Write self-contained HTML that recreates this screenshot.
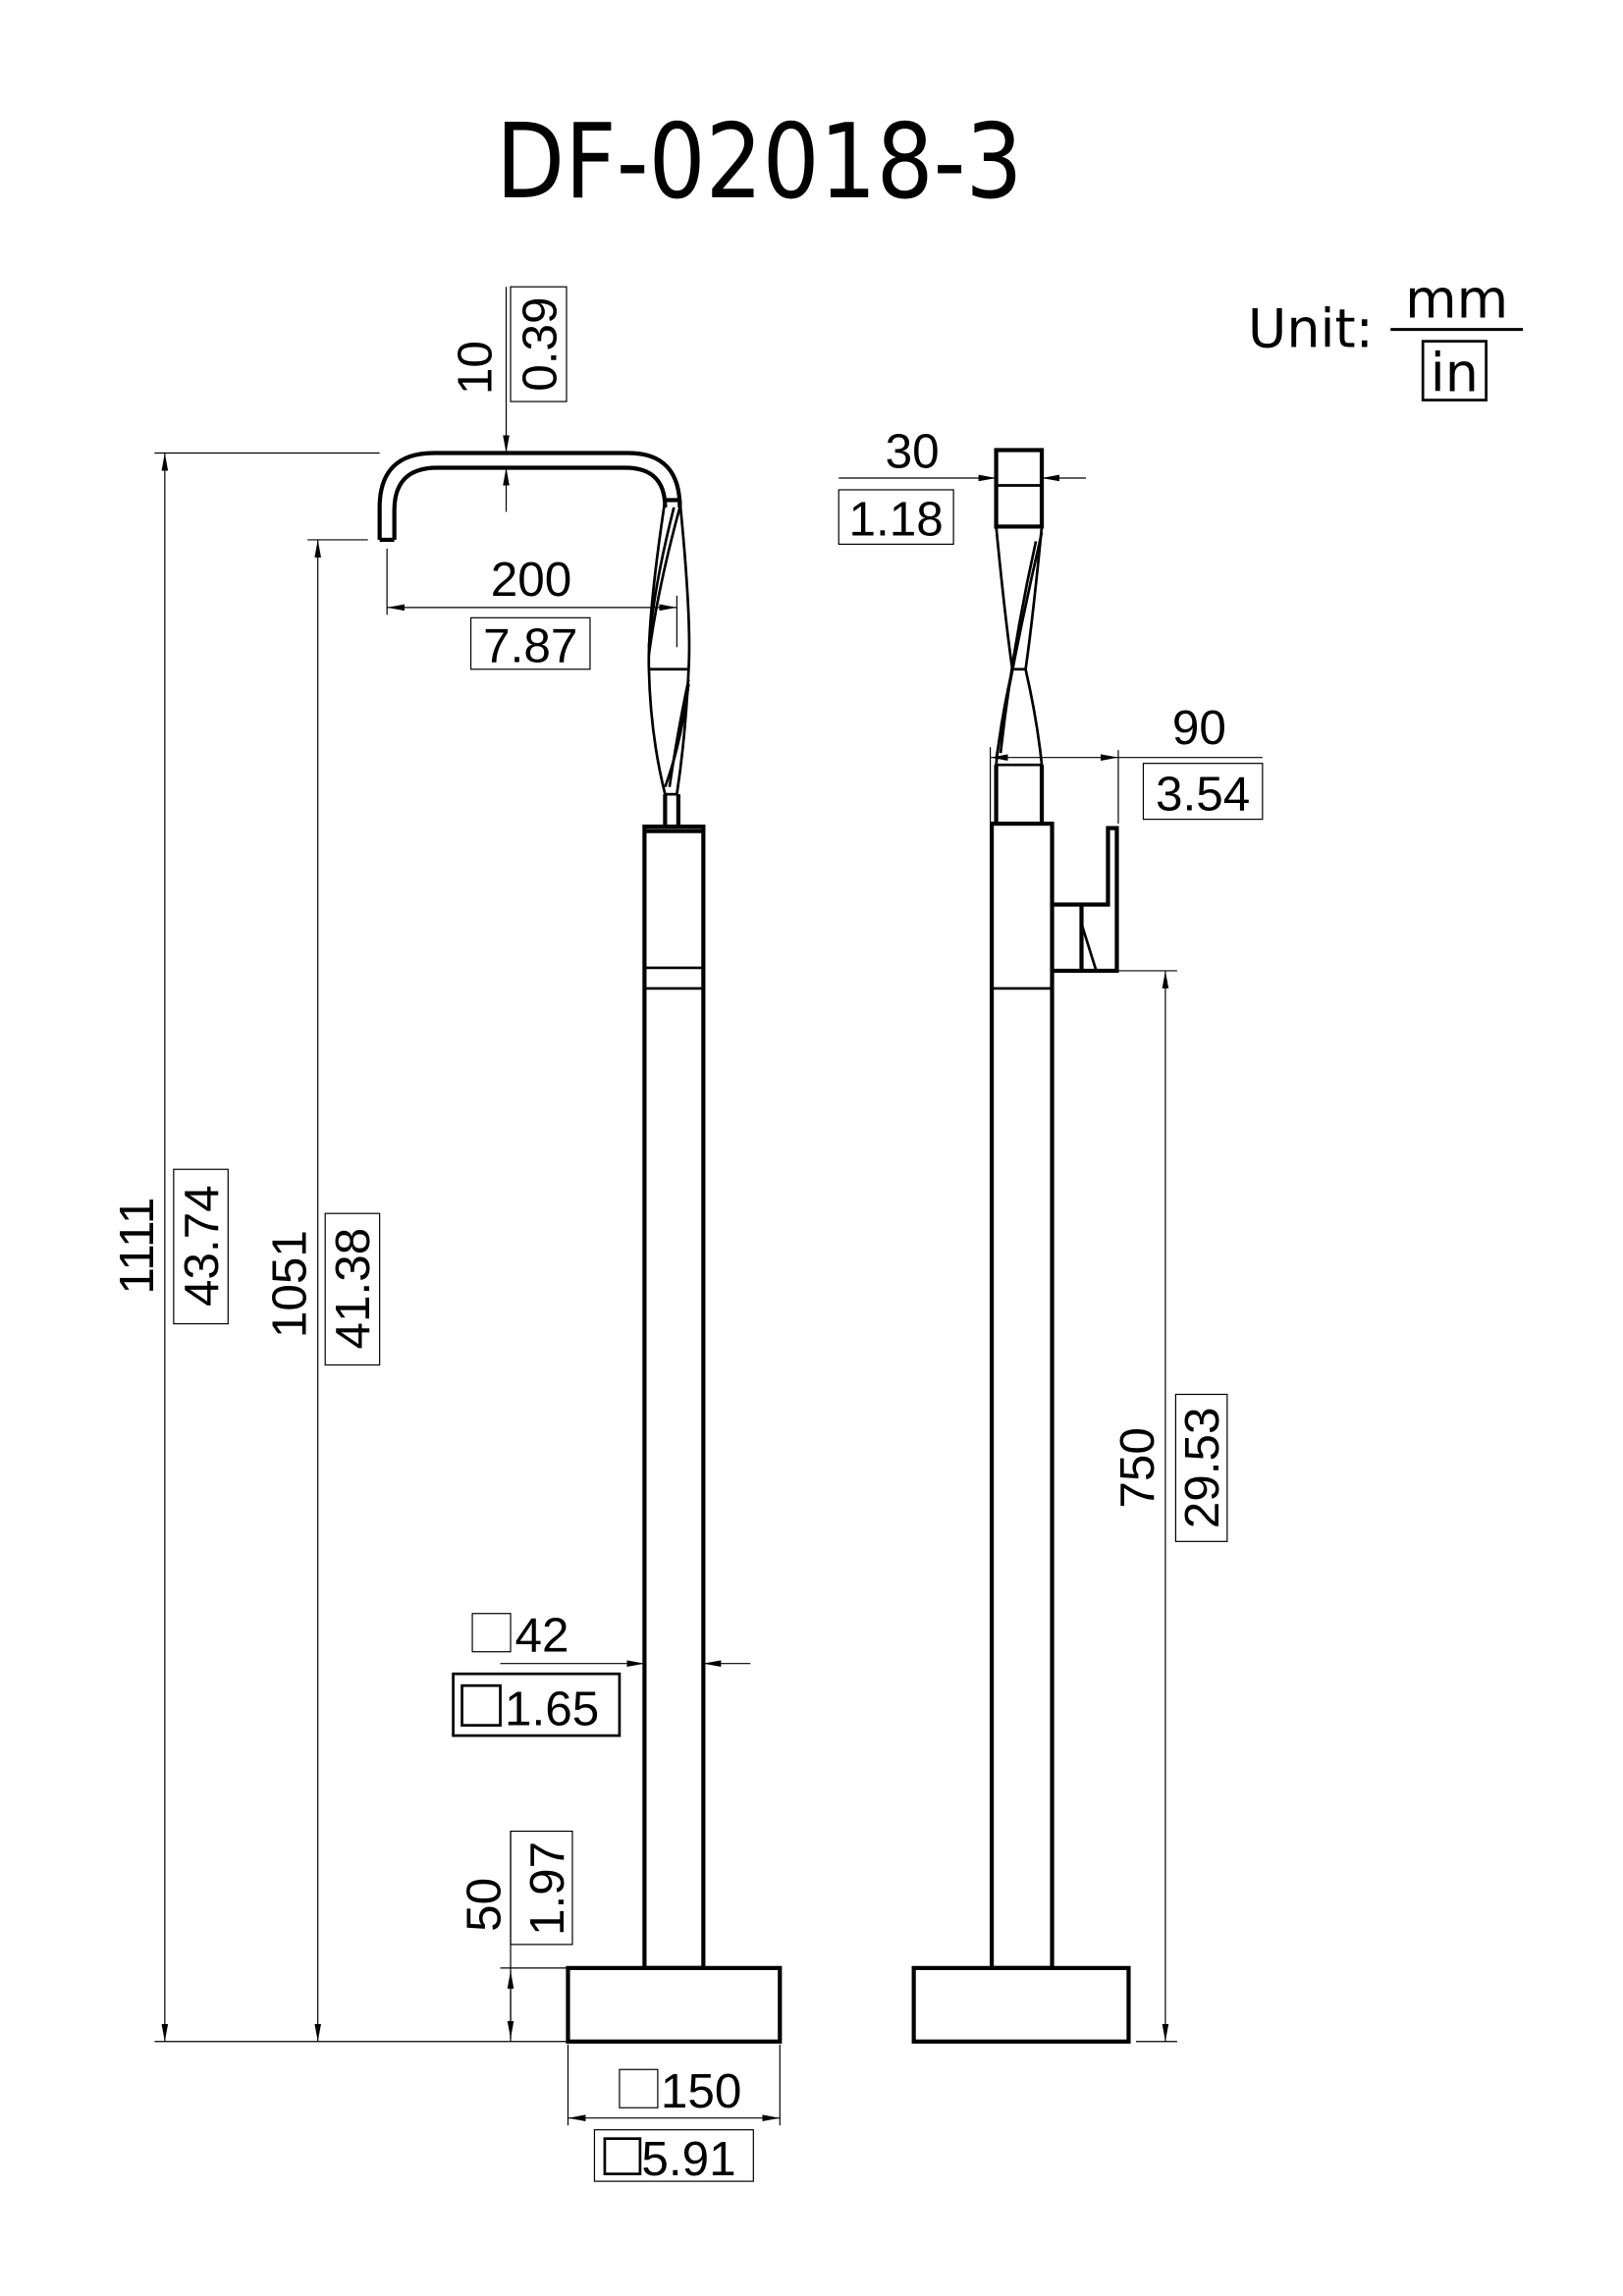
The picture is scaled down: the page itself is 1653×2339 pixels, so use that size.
<!DOCTYPE html>
<html><head><meta charset="utf-8"><style>
html,body{margin:0;padding:0;background:#fff;}
svg{display:block;}
text{font-family:"Liberation Sans",sans-serif;fill:#000;}
.t{stroke:#000;stroke-width:2.8;fill:none;}
.m{stroke:#000;stroke-width:1.8;fill:none;}
.d{stroke:#000;stroke-width:0.8;fill:none;}
.b{stroke:#000;stroke-width:0.8;fill:none;}
.n{font-size:33px;}
</style></head><body>
<svg width="1653" height="2339" viewBox="0 0 1103 1561" preserveAspectRatio="none" xmlns="http://www.w3.org/2000/svg">
<defs>
<marker id="a" viewBox="0 0 12 6" refX="12" refY="3" markerWidth="12" markerHeight="6" markerUnits="userSpaceOnUse" orient="auto-start-reverse"><path d="M0,0.8 L12,3 L0,5.2 Z" fill="#000"/></marker>
</defs>
<!-- title -->
<text x="337" y="134" font-size="70" textLength="358" lengthAdjust="spacingAndGlyphs" style="font-family:'DejaVu Sans','Liberation Sans',sans-serif">DF-02018-3</text>
<!-- unit -->
<text x="848" y="236" font-size="36" style="font-family:'DejaVu Sans','Liberation Sans',sans-serif">Unit:</text>
<text x="990" y="216" font-size="36" text-anchor="middle" style="font-family:'DejaVu Sans','Liberation Sans',sans-serif">mm</text>
<line x1="945" y1="224" x2="1035" y2="224" stroke="#000" stroke-width="2"/>
<rect x="967" y="232" width="43" height="40" class="m"/>
<text x="988.5" y="266" font-size="36" text-anchor="middle" style="font-family:'DejaVu Sans','Liberation Sans',sans-serif">in</text>

<!-- LEFT VIEW -->
<path class="t" d="M258,367 L258,345 Q258,308 295,308 L427,308 Q462,308 462,345 L462,340"/>
<path class="t" d="M268,367 L268,347 Q268,318 297,318 L425,318 Q452,318 452,345"/>
<line class="t" x1="258" y1="367" x2="268" y2="367"/>
<line class="t" x1="452" y1="340" x2="462" y2="340"/>
<path class="m" d="M452,340 Q440,420 441,455 Q442,500 452,540"/>
<path class="m" d="M462,340 Q470,420 468,455 Q466,500 460,540"/>
<path class="m" d="M462,345 Q447,400 441,445"/>
<path class="m" d="M458,345 Q444,400 441,440"/>
<path class="m" d="M468,465 Q463,505 452,535"/>
<path class="m" d="M468,462 Q460,500 455,535"/>
<line class="m" x1="441" y1="455" x2="468" y2="455"/>
<line class="m" x1="452" y1="540" x2="460" y2="540"/>
<line class="t" x1="452" y1="540" x2="452" y2="562"/>
<line class="t" x1="461" y1="540" x2="461" y2="562"/>
<rect x="438" y="562" width="40" height="776" class="t"/>
<line class="t" x1="438" y1="565" x2="478" y2="565"/>
<line class="m" x1="438" y1="658" x2="478" y2="658"/>
<line class="m" x1="438" y1="672" x2="478" y2="672"/>
<rect x="386" y="1338" width="144" height="50" class="t" stroke-width="3.2"/>

<!-- 1111 -->
<line class="d" x1="105" y1="308" x2="258" y2="308"/>
<line class="d" x1="105" y1="1388" x2="385" y2="1388"/>
<line class="d" x1="112" y1="308" x2="112" y2="1388" marker-start="url(#a)" marker-end="url(#a)"/>
<text class="n" transform="translate(104,847) rotate(-90)" text-anchor="middle">1111</text>
<rect x="118" y="795" width="37" height="105" class="b"/>
<text class="n" transform="translate(148,847) rotate(-90)" text-anchor="middle">43.74</text>
<!-- 1051 -->
<line class="d" x1="209" y1="367" x2="250" y2="367"/>
<line class="d" x1="216" y1="367" x2="216" y2="1388" marker-start="url(#a)" marker-end="url(#a)"/>
<text class="n" transform="translate(208,873) rotate(-90)" text-anchor="middle">1051</text>
<rect x="221" y="825" width="37" height="103" class="b"/>
<text class="n" transform="translate(251,876) rotate(-90)" text-anchor="middle">41.38</text>
<!-- 10 -->
<line class="d" x1="344" y1="195" x2="344" y2="308" marker-end="url(#a)"/>
<line class="d" x1="344" y1="318" x2="344" y2="348" marker-start="url(#a)"/>
<text class="n" transform="translate(334,250) rotate(-90)" text-anchor="middle">10</text>
<rect x="347" y="195" width="38" height="78" class="b"/>
<text class="n" transform="translate(378,234) rotate(-90)" text-anchor="middle">0.39</text>
<!-- 200 -->
<line class="d" x1="263" y1="373" x2="263" y2="418"/>
<line class="d" x1="460" y1="405" x2="460" y2="440"/>
<line class="d" x1="263" y1="413" x2="460" y2="413" marker-start="url(#a)" marker-end="url(#a)"/>
<text class="n" x="361" y="405" text-anchor="middle">200</text>
<rect x="320" y="420" width="81" height="35" class="b"/>
<text class="n" x="360.5" y="450" text-anchor="middle">7.87</text>
<!-- 42 -->
<rect x="321" y="1097" width="26" height="26" class="b"/>
<text class="n" x="350" y="1123">42</text>
<line class="d" x1="340" y1="1131" x2="438" y2="1131" marker-end="url(#a)"/>
<line class="d" x1="478" y1="1131" x2="510" y2="1131" marker-start="url(#a)"/>
<rect x="308" y="1138" width="113" height="42" class="m"/>
<rect x="314" y="1146" width="26" height="27" class="m"/>
<text class="n" x="343" y="1173">1.65</text>
<!-- 50 -->
<line class="d" x1="340" y1="1338" x2="386" y2="1338"/>
<line class="d" x1="347" y1="1245" x2="347" y2="1388"/>
<line class="d" x1="347" y1="1340" x2="347" y2="1386" marker-start="url(#a)" marker-end="url(#a)"/>
<text class="n" transform="translate(340,1295) rotate(-90)" text-anchor="middle">50</text>
<rect x="347" y="1245" width="42" height="77" class="b"/>
<text class="n" transform="translate(383,1284) rotate(-90)" text-anchor="middle">1.97</text>
<!-- 150 -->
<line class="d" x1="386" y1="1390" x2="386" y2="1445"/>
<line class="d" x1="530" y1="1390" x2="530" y2="1445"/>
<line class="d" x1="386" y1="1440" x2="530" y2="1440" marker-start="url(#a)" marker-end="url(#a)"/>
<rect x="421" y="1407" width="26" height="26" class="b"/>
<text class="n" x="449" y="1433">150</text>
<rect x="404" y="1448" width="108" height="35" class="b"/>
<rect x="411" y="1454" width="24" height="24" class="m"/>
<text class="n" x="436" y="1479">5.91</text>

<!-- RIGHT VIEW -->
<rect x="677" y="306" width="31" height="52" class="t"/>
<line class="m" x1="677" y1="330" x2="708" y2="330"/>
<path class="m" d="M677,358 Q683,420 688,455 Q680,490 677,520"/>
<path class="m" d="M708,358 Q702,420 697,455 Q705,490 708,520"/>
<path class="m" d="M708,362 Q690,440 677,516"/>
<path class="m" d="M704,368 Q688,440 680,512"/>
<line class="m" x1="688" y1="455" x2="697" y2="455"/>
<line class="m" x1="677" y1="520" x2="708" y2="520"/>
<line class="t" x1="677" y1="520" x2="677" y2="560"/>
<line class="t" x1="708" y1="520" x2="708" y2="560"/>
<rect x="674" y="560" width="41" height="778" class="t"/>
<line class="m" x1="674" y1="672" x2="715" y2="672"/>
<path class="t" d="M715,615 L753,615 L753,563 L759,563 L759,660 L715,660"/>
<line class="t" x1="735" y1="615" x2="735" y2="660"/>
<path class="m" d="M735,628 L745,660"/>
<rect x="621" y="1338" width="146" height="50" class="t" stroke-width="3.2"/>
<!-- 30 -->
<line class="d" x1="570" y1="325" x2="677" y2="325" marker-end="url(#a)"/>
<line class="d" x1="708" y1="325" x2="738" y2="325" marker-start="url(#a)"/>
<text class="n" x="620" y="318" text-anchor="middle">30</text>
<rect x="570" y="333" width="78" height="37" class="b"/>
<text class="n" x="609" y="364" text-anchor="middle">1.18</text>
<!-- 90 -->
<line class="d" x1="673" y1="508" x2="673" y2="560"/>
<line class="d" x1="760" y1="510" x2="760" y2="560"/>
<line class="d" x1="673" y1="515" x2="760" y2="515" marker-start="url(#a)" marker-end="url(#a)"/>
<line class="d" x1="760" y1="515" x2="858" y2="515"/>
<text class="n" x="815" y="506" text-anchor="middle">90</text>
<rect x="777" y="519" width="81" height="38" class="b"/>
<text class="n" x="817.5" y="551" text-anchor="middle">3.54</text>
<!-- 750 -->
<line class="d" x1="740" y1="660" x2="800" y2="660"/>
<line class="d" x1="772" y1="1388" x2="800" y2="1388"/>
<line class="d" x1="792" y1="660" x2="792" y2="1388" marker-start="url(#a)" marker-end="url(#a)"/>
<text class="n" transform="translate(784,998) rotate(-90)" text-anchor="middle">750</text>
<rect x="799" y="948" width="35" height="100" class="b"/>
<text class="n" transform="translate(828,998) rotate(-90)" text-anchor="middle">29.53</text>
</svg>
</body></html>
